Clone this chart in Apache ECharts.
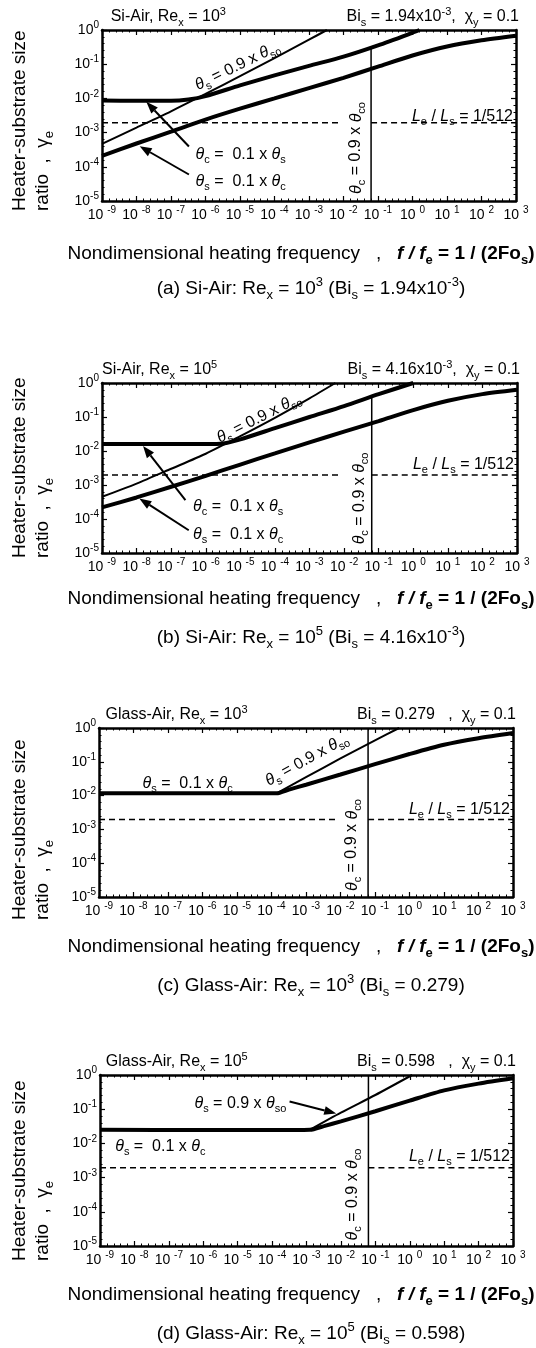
<!DOCTYPE html>
<html>
<head>
<meta charset="utf-8">
<script src="https://cdn.jsdelivr.net/npm/echarts@6/dist/echarts.min.js"></script>
<style>
html, body { margin: 0; padding: 0; background: #fff; }
#chart { width: 536px; height: 1348px; }
</style>
</head>
<body>
<div id="chart"></div>
<script>
var FONT = "'Liberation Sans', Arial, sans-serif";

/* axis ticks: powers of ten */
var xExp = [-9, -8, -7, -6, -5, -4, -3, -2, -1, 0, 1, 2, 3];
var yExp = [-5, -4, -3, -2, -1, 0];

var lengthRatio = 1 / 512;   // Le / Ls
var cutFreq = 0.063;         // theta_c = 0.9 x theta_co
var gapFreq = 8e-3;          // dashed line stops here, starts again at cutFreq

/* (a) Si-Air, Re = 10^3 */
var aThinF = [1e-9, 1e-8, 1e-7, 1e-6, 1e-5, 1e-4, 1e-3, 3.3e-3];
var aThinG = [4.7e-4, 1.4e-3, 4.2e-3, 1.35e-2, 4.5e-2, 0.15, 0.52, 1];
var aMidF = [1e-9, 1e-8, 1e-7, 3.2e-7, 1e-6, 1e-5, 1e-4, 1e-3, 1e-2, 0.1, 1, 1.6];
var aMidG = [8.7e-3, 8.5e-3, 8.5e-3, 9.3e-3, 1.17e-2, 2.4e-2, 4.7e-2, 8.9e-2, 0.166, 0.355, 0.83, 1];
var aLowF = [1e-9, 1e-8, 1e-7, 1e-6, 1e-5, 1e-4, 1e-3, 1e-2, 0.1, 1, 10, 100, 1000];
var aLowG = [2.1e-4, 4.8e-4, 1.07e-3, 2.4e-3, 5.0e-3, 1.0e-2, 2.0e-2, 4.0e-2, 8.5e-2, 0.18, 0.33, 0.5, 0.68];
var aCutTop = 0.3;

/* (b) Si-Air, Re = 10^5 */
var bThinF = [1e-9, 1e-8, 1e-7, 1e-6, 1e-5, 1e-4, 1e-3, 5.6e-3];
var bThinG = [4.5e-4, 1.1e-3, 3.0e-3, 8.3e-3, 2.75e-2, 9.5e-2, 0.355, 1];
var bMidF = [1e-9, 1e-8, 1e-7, 1e-6, 3.2e-6, 1e-5, 1e-4, 1e-3, 1e-2, 0.1, 1];
var bMidG = [1.6e-2, 1.6e-2, 1.6e-2, 1.6e-2, 1.66e-2, 2.2e-2, 4.7e-2, 0.1, 0.21, 0.47, 1];
var bLowF = [1e-9, 1e-8, 1e-7, 1e-6, 1e-5, 1e-4, 1e-3, 1e-2, 0.1, 1, 10, 100, 1000];
var bLowG = [2.2e-4, 4.3e-4, 8.9e-4, 1.86e-3, 4.0e-3, 8.5e-3, 1.8e-2, 3.7e-2, 7.6e-2, 0.16, 0.3, 0.47, 0.63];
var bCutTop = 0.4;

/* (c) Glass-Air, Re = 10^3 */
var cLowF = [1e-9, 1e-6, 1.4e-4, 3.2e-4, 1e-3, 1e-2, 0.1, 1, 10, 100, 1000];
var cLowG = [1.17e-2, 1.17e-2, 1.17e-2, 1.5e-2, 2.1e-2, 4.2e-2, 8.5e-2, 0.17, 0.32, 0.5, 0.71];
var cThinF = [1.4e-4, 1e-3, 1e-2, 0.1, 0.5];
var cThinG = [1.17e-2, 3.5e-2, 0.126, 0.43, 1];
var cCutTop = 1;

/* (d) Glass-Air, Re = 10^5 */
var dLowF = [1e-9, 1e-6, 1e-4, 1.26e-3, 3.2e-3, 1e-2, 0.1, 1, 10, 100, 1000];
var dLowG = [2.5e-2, 2.45e-2, 2.45e-2, 2.5e-2, 3.2e-2, 4.4e-2, 8.7e-2, 0.178, 0.355, 0.56, 0.8];
var dThinF = [1.26e-3, 1e-2, 0.1, 1.17];
var dThinG = [2.5e-2, 7.9e-2, 0.26, 1];
var dCutTop = 1;

/* page layout of the four plots (pixels) */
var panels = [
    {left: 102, top: 30, width: 414, height: 171, yTitle: 211, xTitle: 53, cap: 88, tx: 0.021, ratioFy: 0.507, vOff: 15},
    {left: 102, top: 383, width: 415, height: 170, yTitle: 558, xTitle: 46, cap: 85, tx: 0.0, ratioFy: 0.482, vOff: 12},
    {left: 99, top: 728, width: 414, height: 169, yTitle: 920, xTitle: 50, cap: 89, tx: 0.016, ratioFy: 0.485, vOff: 16},
    {left: 100, top: 1075, width: 413, height: 171, yTitle: 1261, xTitle: 49, cap: 88, tx: 0.014, ratioFy: 0.476, vOff: 16}
];

var leftTitles = [
    '{n|Si-Air, Re}{s|x}{n| = 10}{p|3}',
    '{n|Si-Air, Re}{s|x}{n| = 10}{p|5}',
    '{n|Glass-Air, Re}{s|x}{n| = 10}{p|3}',
    '{n|Glass-Air, Re}{s|x}{n| = 10}{p|5}'
];
var rightTitles = [
    '{n|Bi}{s|s}{n| = 1.94x10}{p|-3}{n|,  \u03c7}{s|y}{n| = 0.1}',
    '{n|Bi}{s|s}{n| = 4.16x10}{p|-3}{n|,  \u03c7}{s|y}{n| = 0.1}',
    '{n|Bi}{s|s}{n| = 0.279   ,  \u03c7}{s|y}{n| = 0.1}',
    '{n|Bi}{s|s}{n| = 0.598   ,  \u03c7}{s|y}{n| = 0.1}'
];
var captions = [
    '{n|(a) Si-Air: Re}{s|x}{n| = 10}{p|3}{n| (Bi}{s|s}{n| = 1.94x10}{p|-3}{n|)}',
    '{n|(b) Si-Air: Re}{s|x}{n| = 10}{p|5}{n| (Bi}{s|s}{n| = 4.16x10}{p|-3}{n|)}',
    '{n|(c) Glass-Air: Re}{s|x}{n| = 10}{p|3}{n| (Bi}{s|s}{n| = 0.279)}',
    '{n|(d) Glass-Air: Re}{s|x}{n| = 10}{p|5}{n| (Bi}{s|s}{n| = 0.598)}'
];

var T = '\u03b8';
var lblSo = '{i|' + T + '}{s|s}{n| = 0.9 x }{i|' + T + '}{s|so}';
var lblCs = '{i|' + T + '}{s|c}{n| =  0.1 x }{i|' + T + '}{s|s}';
var lblSc = '{i|' + T + '}{s|s}{n| =  0.1 x }{i|' + T + '}{s|c}';
var lblCo = '{i|' + T + '}{s|c}{n| = 0.9 x }{i|' + T + '}{s|co}';
var lblRatio = '{i|L}{s|e}{n| / }{i|L}{s|s}{n| = 1/512}';

function richSet(F) {
    var s = Math.round(F * 0.68), off = Math.round(F * 0.7);
    function t(extra) {
        return Object.assign({fill: '#000', fontFamily: FONT, fontSize: F, lineHeight: Math.round(F * 1.2)}, extra);
    }
    return {
        n: t({}),
        i: t({fontStyle: 'italic'}),
        bi: t({fontStyle: 'italic', fontWeight: 'bold'}),
        bd: t({fontWeight: 'bold'}),
        s: t({fontSize: s, lineHeight: s, padding: [off, 0, 0, 0]}),
        bs: t({fontSize: s, lineHeight: s, padding: [off, 0, 0, 0], fontWeight: 'bold'}),
        p: t({fontSize: s, lineHeight: s, padding: [0, 0, off, 0]})
    };
}

function txt(x, y, text, F, align, rot) {
    return {
        type: 'text', x: x, y: y, rotation: rot || 0, silent: true,
        style: {
            text: text, rich: richSet(F), fill: '#000',
            font: F + 'px ' + FONT,
            align: align || 'center', textAlign: align || 'center',
            verticalAlign: 'middle', textVerticalAlign: 'middle'
        }
    };
}

function arrow(x1, y1, x2, y2) {
    var dx = x2 - x1, dy = y2 - y1, len = Math.sqrt(dx * dx + dy * dy);
    var ux = dx / len, uy = dy / len, L = 12, W = 4.5;
    var bx = x2 - ux * L, by = y2 - uy * L;
    return [
        {type: 'line', silent: true, shape: {x1: x1, y1: y1, x2: bx, y2: by}, style: {stroke: '#000', lineWidth: 2}},
        {type: 'polygon', silent: true, shape: {points: [[x2, y2], [bx - uy * W, by + ux * W], [bx + uy * W, by - ux * W]]}, style: {fill: '#000'}}
    ];
}

var tickRich = {
    n: {fontFamily: FONT, fontSize: 14, color: '#000', lineHeight: 16},
    p: {fontFamily: FONT, fontSize: 10, color: '#000', lineHeight: 10, padding: [0, 0, 9, 0]}
};

var grids = [], xAxes = [], yAxes = [], series = [], graphics = [];

function axisCommon(gi, showLabel) {
    return {
        type: 'value', gridIndex: gi, interval: 1,
        axisLine: {show: true, onZero: false, lineStyle: {color: '#000', width: 2.5}},
        axisTick: {show: true, inside: true, length: 5, lineStyle: {color: '#000', width: 1.2}},
        minorTick: {show: true, splitNumber: 5, length: 2.5, lineStyle: {color: '#000', width: 1}},
        splitLine: {show: false},
        axisLabel: {show: showLabel, rich: tickRich}
    };
}

function curve(gi, xs, ys, w, extra) {
    series.push(Object.assign({
        type: 'line', xAxisIndex: gi * 2, yAxisIndex: gi * 2, symbol: 'none',
        smooth: 0.25, silent: true,
        data: xs.map(function (x, k) { return [Math.log10(x), Math.log10(ys[k])]; }),
        lineStyle: {color: '#000', width: w}
    }, extra || {}));
}

panels.forEach(function (p, gi) {
    grids.push({left: p.left, top: p.top, width: p.width, height: p.height, outerBoundsMode: 'none', containLabel: false});

    ['bottom', 'top'].forEach(function (pos) {
        var ax = axisCommon(gi, pos === 'bottom');
        ax.position = pos;
        ax.min = xExp[0];
        ax.max = xExp[xExp.length - 1];
        ax.axisLabel.margin = 6;
        ax.axisLabel.formatter = function (v) { return '{n|10 }{p|' + Math.round(v) + '}'; };
        xAxes.push(ax);
    });
    ['left', 'right'].forEach(function (pos) {
        var ax = axisCommon(gi, pos === 'left');
        ax.position = pos;
        ax.min = yExp[0];
        ax.max = yExp[yExp.length - 1];
        ax.axisLabel.margin = 3;
        ax.axisLabel.formatter = function (v) { return '{n|10}{p|' + Math.round(v) + '}'; };
        yAxes.push(ax);
    });

    /* reference lines */
    var dash = {smooth: false, lineStyle: {color: '#000', width: 1.5, type: [6, 4]}};
    curve(gi, [1e-9, gapFreq], [lengthRatio, lengthRatio], 1.5, dash);
    curve(gi, [cutFreq, 1e3], [lengthRatio, lengthRatio], 1.5, dash);
    var cutTop = [aCutTop, bCutTop, cCutTop, dCutTop][gi];
    curve(gi, [cutFreq, cutFreq], [1e-5, cutTop], 1.5, {smooth: false});

    /* texts around the plot */
    var right = p.left + p.width, bottom = p.top + p.height;
    graphics.push(txt(p.left + p.tx * p.width, p.top - 13, leftTitles[gi], 16, 'left'));
    graphics.push(txt(right + 3, p.top - 13, rightTitles[gi], 16, 'right'));
    graphics.push(txt(20, p.yTitle, '{n|Heater-substrate size}', 19, 'left', Math.PI / 2));
    graphics.push(txt(43, p.yTitle, '{n|ratio  ,  \u03b3}{s|e}', 19, 'left', Math.PI / 2));
    graphics.push(txt(301, bottom + p.xTitle,
        '{n|Nondimensional heating frequency   ,   }{bi|f / f}{bs|e}{bd| = 1 / (2Fo}{bs|s}{bd|)}', 19, 'center'));
    graphics.push(txt(311, bottom + p.cap, captions[gi], 19, 'center'));

    var cutX = p.left + p.width * (Math.log10(cutFreq) - xExp[0]) / (xExp[xExp.length - 1] - xExp[0]);
    var vFy = [0.69, 0.679, 0.693, 0.699][gi];
    graphics.push(txt(cutX - p.vOff, p.top + vFy * p.height, lblCo, 16, 'center', Math.PI / 2));
    graphics.push(txt(right - 3, p.top + p.ratioFy * p.height, lblRatio, 16, 'right'));
});

/* curves */
curve(0, aThinF, aThinG, 2);
curve(0, aMidF, aMidG, 4);
curve(0, aLowF, aLowG, 4);
curve(1, bThinF, bThinG, 2);
curve(1, bMidF, bMidG, 4);
curve(1, bLowF, bLowG, 4);
curve(2, cLowF, cLowG, 4);
curve(2, cThinF, cThinG, 2);
curve(3, dLowF, dLowG, 4);
curve(3, dThinF, dThinG, 2);

/* labels and arrows inside the plots */
function at(gi, fx, fy) {
    var p = panels[gi];
    return [p.left + fx * p.width, p.top + fy * p.height];
}
function put(gi, fx, fy, text, rotDeg) {
    var q = at(gi, fx, fy);
    graphics.push(txt(q[0], q[1], text, 16, 'center', (rotDeg || 0) * Math.PI / 180));
}
function pointer(gi, f1, f2) {
    var a = at(gi, f1[0], f1[1]), b = at(gi, f2[0], f2[1]);
    arrow(a[0], a[1], b[0], b[1]).forEach(function (e) { graphics.push(e); });
}

put(0, 0.327, 0.211, lblSo, 26);
put(0, 0.335, 0.729, lblCs);
put(0, 0.335, 0.884, lblSc);
pointer(0, [0.21, 0.681], [0.107, 0.42]);
pointer(0, [0.21, 0.845], [0.091, 0.68]);

put(1, 0.378, 0.207, lblSo, 27);
put(1, 0.328, 0.728, lblCs);
put(1, 0.328, 0.89, lblSc);
pointer(1, [0.201, 0.689], [0.099, 0.37]);
pointer(1, [0.209, 0.866], [0.09, 0.679]);

put(2, 0.502, 0.188, lblSo, 29);
put(2, 0.214, 0.327, lblSc);

put(3, 0.34, 0.165, lblSo);
put(3, 0.146, 0.417, lblSc);
pointer(3, [0.459, 0.155], [0.572, 0.225]);

var chart = echarts.init(document.getElementById('chart'));
chart.setOption({
    animation: false,
    backgroundColor: '#fff',
    grid: grids,
    xAxis: xAxes,
    yAxis: yAxes,
    series: series,
    graphic: graphics
});
</script>
</body>
</html>
